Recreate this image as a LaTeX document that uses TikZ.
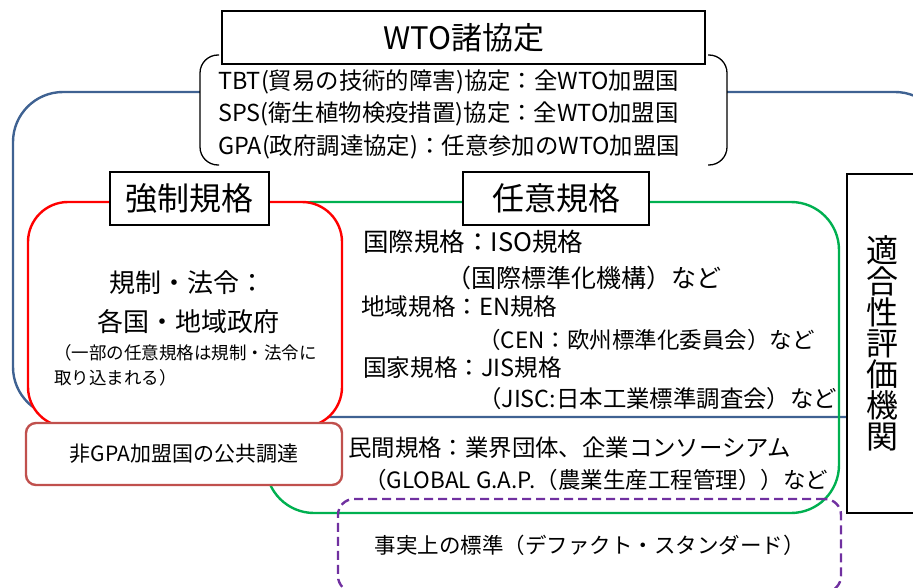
\documentclass[tikz,border=0pt]{standalone}
\usepackage{fontspec}
\setmainfont{Noto Sans CJK JP}
\usetikzlibrary{positioning}
\definecolor{frameblue}{RGB}{63,98,146}
\definecolor{regred}{RGB}{255,0,0}
\definecolor{volgreen}{RGB}{0,176,80}
\definecolor{procred}{RGB}{192,80,77}
\definecolor{defpurple}{RGB}{112,48,160}
\newcommand\fsz[1]{\fontsize{#1}{#1}\selectfont}
\tikzset{titlebox/.style={draw=black,line width=1.3pt,fill=white,inner sep=0pt}}
\tikzset{txt/.style={inner sep=0pt,anchor=west}}

\begin{document}
\begin{tikzpicture}[x=1pt,y=-1pt,line width=2.4pt]
  \useasboundingbox (0,0) rectangle (913,588);
  \clip (0,0) rectangle (913,588);

  % big frames
  \draw[frameblue,rounded corners=50] (13,92) rectangle (945,417);
  \draw[volgreen,rounded corners=48] (266,202) rectangle (839,513);
  \draw[regred,fill=white,rounded corners=40] (28,202) rectangle (342,427);
  \node[draw=procred,line width=2.4pt,fill=white,rounded corners=10,minimum width=316,minimum height=62,
        font=\fsz{21}] (procure) at (184,454) {非GPA加盟国の公共調達};
  \node[draw=defpurple,line width=2.4pt,dash pattern=on 9pt off 5pt,rounded corners=16,
        minimum width=503,minimum height=93,font=\fsz{21.5}] (defacto) at (589.5,545.5)
        {事実上の標準（デファクト・スタンダード）};

  % WTO agreements
  \fill[white] (200,55) rectangle (727,165);
  \draw[line width=1.3pt,rounded corners=18] (219,55) -- (200,55) -- (200,165) -- (219,165);
  \draw[line width=1.3pt,rounded corners=18] (708,55) -- (727,55) -- (727,165) -- (708,165);
  \node[titlebox,minimum width=483,minimum height=53,font=\fsz{31}] (wto) at (463.5,37.5) {WTO諸協定};
  \node[txt,font=\fsz{23.4}] (tbt) at (217,82) {TBT(貿易の技術的障害)協定：全WTO加盟国};
  \node[txt,font=\fsz{23.4}] (sps) at (217,114) {SPS(衛生植物検疫措置)協定：全WTO加盟国};
  \node[txt,font=\fsz{23.4}] (gpa) at (217,147) {GPA(政府調達協定)：任意参加のWTO加盟国};

  % mandatory
  \node[titlebox,minimum width=159,minimum height=53,font=\fsz{32}] (mand) at (189.5,198.5) {強制規格};
  \node[font=\fsz{26}] (law) at (187,283) {規制・法令：};
  \node[font=\fsz{26}] (gov) at (188,322) {各国・地域政府};
  \node[txt,font=\fsz{17.5}] (note1) at (53,353) {（一部の任意規格は規制・法令に};
  \node[txt,font=\fsz{17.5},below=6pt of note1.south west,anchor=north west] (note2) {取り込まれる）};

  % voluntary
  \node[titlebox,minimum width=186,minimum height=53,font=\fsz{32}] (vol) at (556,198.5) {任意規格};
  \node[txt,font=\fsz{25.5}] (intl) at (362,242) {国際規格：ISO規格};
  \node[txt,font=\fsz{25}] (iso) at (445,278) {（国際標準化機構）など};
  \node[txt,font=\fsz{23.6}] (reg) at (360,307) {地域規格：EN規格};
  \node[txt,font=\fsz{22.5}] (cen) at (477,340) {（CEN：欧州標準化委員会）など};
  \node[txt,font=\fsz{23.6}] (nat) at (362,368) {国家規格：JIS規格};
  \node[txt,font=\fsz{23.4}] (jisc) at (477,399) {（JISC:日本工業標準調査会）など};
  \node[txt,font=\fsz{23.4}] (priv) at (347,448) {民間規格：業界団体、企業コンソーシアム};
  \node[txt,font=\fsz{22.5}] (gap) at (363,480) {（GLOBAL G.A.P.（農業生産工程管理））など};

  % conformity assessment
  \node[titlebox,minimum width=70,minimum height=339,align=center,font=\fsz{32}] (conf)
    at (882,343.5) {適\\[-1pt]合\\[-1pt]性\\[-1pt]評\\[-1pt]価\\[-1pt]機\\[-1pt]関};
\end{tikzpicture}
\end{document}
